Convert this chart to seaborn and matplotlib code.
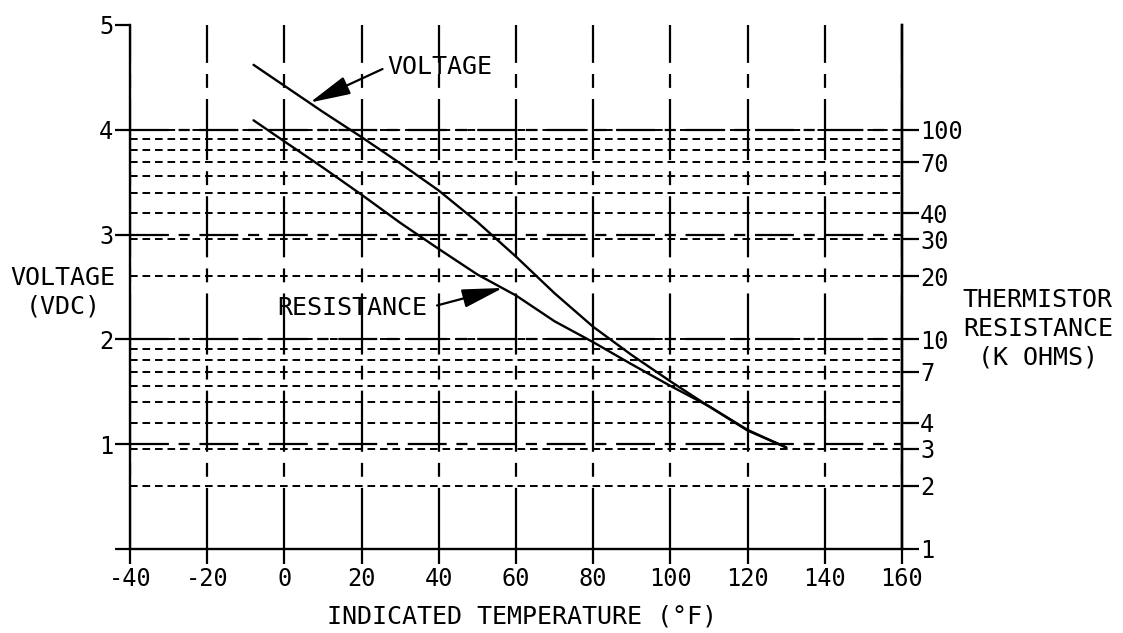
import matplotlib
matplotlib.use("Agg")
import matplotlib.pyplot as plt
import seaborn as sns
from matplotlib.ticker import FixedLocator, NullFormatter

# values
temps_f = [-8, 0, 10, 20, 30, 40, 50, 60, 70, 80, 90, 100, 110, 120, 130]
voltage_vdc = [4.62, 4.42, 4.17, 3.93, 3.68, 3.42, 3.12, 2.79, 2.44, 2.12, 1.85, 1.60, 1.36, 1.13, 0.97]
resistance_kohm = [111, 88, 66, 49, 36, 27, 20.4, 16.2, 12.2, 9.7, 7.6, 6.0, 4.8, 3.7, 3.05]

x_ticks = [-40, -20, 0, 20, 40, 60, 80, 100, 120, 140, 160]
v_ticks = [0, 1, 2, 3, 4, 5]
v_labels = ["", "1", "2", "3", "4", "5"]
r_ticks = [1, 2, 3, 4, 7, 10, 20, 30, 40, 70, 100]
r_minor = [5, 6, 8, 9, 50, 60, 80, 90]

sns.set_style("white")
plt.rcParams["font.family"] = ["DejaVu Sans Mono", "DejaVu Sans"]
plt.rcParams["axes.unicode_minus"] = False
plt.rcParams["lines.scale_dashes"] = False
for key in ["text.color", "axes.labelcolor", "xtick.color", "ytick.color"]:
    plt.rcParams[key] = "black"

fig = plt.figure(figsize=(11.23, 6.33), dpi=100)
ax = fig.add_axes([130 / 1123, 1 - 549 / 633, 772 / 1123, 524 / 633])
ax2 = ax.twinx()

sns.lineplot(x=temps_f, y=voltage_vdc, ax=ax, color="black", linewidth=1.7)
sns.lineplot(x=temps_f, y=resistance_kohm, ax=ax2, color="black", linewidth=1.7)

ax.set_xlim(-40, 160)
ax.set_ylim(0, 5)
ax2.set_yscale("log")
ax2.set_ylim(1, 10 ** 2.5)

ax.set_xticks(x_ticks)
ax.set_yticks(v_ticks)
ax.set_yticklabels(v_labels)
ax2.yaxis.set_major_locator(FixedLocator(r_ticks))
ax2.set_yticklabels([str(r) for r in r_ticks])
ax2.yaxis.set_minor_locator(FixedLocator(r_minor))
ax2.yaxis.set_minor_formatter(NullFormatter())

# grid: long-short dashed verticals, long dashes at whole volts, short dashes on the resistance scale
ax.grid(axis="x", color="black", linewidth=1.6, linestyle=(0, (44, 8, 10, 8)))
ax.grid(axis="y", color="black", linewidth=1.6, linestyle=(0, (28, 7, 8, 7)))
for gl in [ax.get_ygridlines()[0], ax.get_ygridlines()[-1]]:
    gl.set_visible(False)
ax2.grid(axis="y", which="both", color="black", linewidth=1.4, linestyle=(0, (5.5, 3.5)))
ax2.get_ygridlines()[0].set_visible(False)

for a in (ax, ax2):
    a.spines["top"].set_visible(False)
    for s in a.spines.values():
        s.set_linewidth(1.7)
        s.set_color("black")
ax2.spines["left"].set_visible(False)
ax2.spines["bottom"].set_visible(False)

ax.tick_params(axis="x", direction="out", length=11, width=1.6, pad=2, labelsize=17, bottom=True)
ax.tick_params(axis="y", direction="out", length=11, width=1.6, pad=1, labelsize=17, left=True)
ax2.tick_params(axis="y", which="major", direction="out", length=12, width=1.6, pad=1, labelsize=17, right=True)
ax2.tick_params(axis="y", which="minor", length=0)

ax.set_xlabel("INDICATED TEMPERATURE (°F)", fontsize=18)
ax.xaxis.set_label_coords(0.508, -0.105)
ax.set_ylabel("VOLTAGE\n(VDC)", fontsize=18, rotation=0, ha="center", va="center", linespacing=1.25)
ax.yaxis.set_label_coords(-0.087, 0.49)
ax2.set_ylabel("THERMISTOR\nRESISTANCE\n(K OHMS)", fontsize=18, rotation=0, ha="center", va="center", linespacing=1.25)
ax2.yaxis.set_label_coords(1.176, 0.42)

arrow = dict(arrowstyle="-|>,head_length=1.4,head_width=0.32", color="black", lw=1.6,
             mutation_scale=18, shrinkA=1, shrinkB=0)
ax.annotate("VOLTAGE", xy=(6.6, 4.26), xytext=(26.6, 4.6), fontsize=18,
            ha="left", va="center", arrowprops=dict(arrow, relpos=(0, 0.5)))
ax2.annotate("RESISTANCE", xy=(56.6, 17.6), xytext=(-1.9, 14.1), fontsize=18,
             ha="left", va="center", arrowprops=dict(arrow, relpos=(1, 0.5), shrinkA=5))

fig.savefig("out.png", dpi=100)
